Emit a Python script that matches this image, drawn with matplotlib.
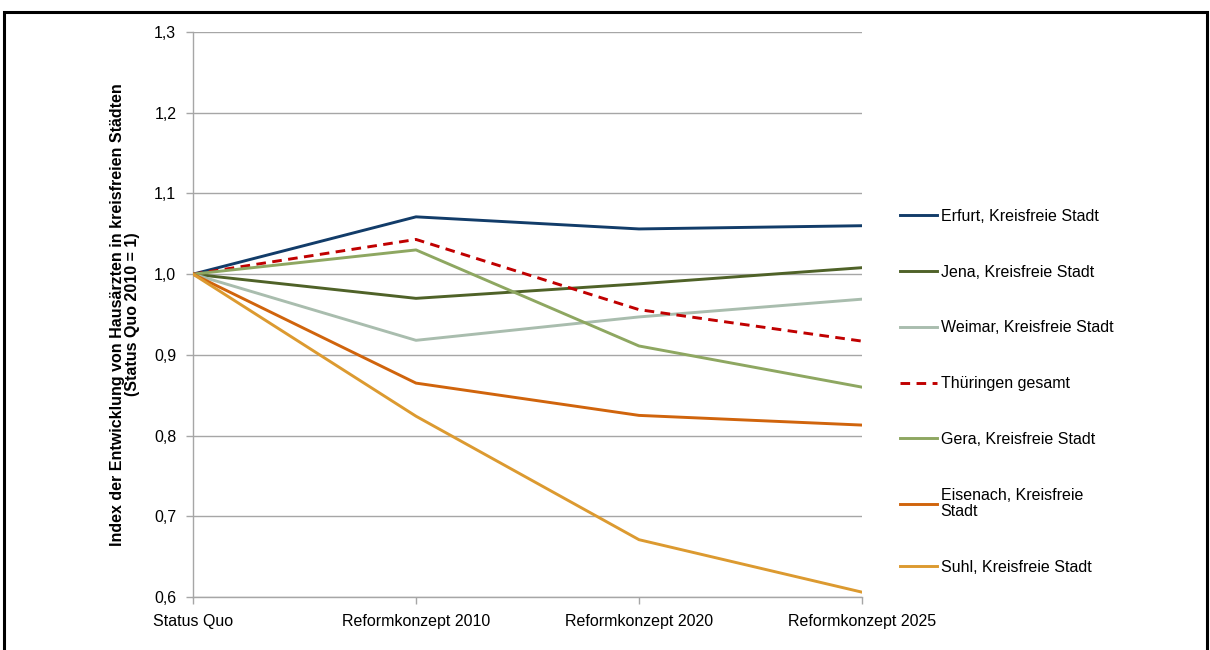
import matplotlib.pyplot as plt
from matplotlib.patches import Rectangle

plt.rcParams['font.family'] = ['Liberation Sans', 'DejaVu Sans']

# Szenarien (x-Achse)
szenarien = ['Status Quo', 'Reformkonzept 2010', 'Reformkonzept 2020', 'Reformkonzept 2025']

# Index je Stadt (Status Quo 2010 = 1)
erfurt = [1.000, 1.071, 1.056, 1.060]
jena = [1.000, 0.970, 0.988, 1.008]
weimar = [1.000, 0.918, 0.947, 0.969]
thueringen = [1.000, 1.043, 0.956, 0.917]
gera = [1.000, 1.030, 0.911, 0.860]
eisenach = [1.000, 0.865, 0.825, 0.813]
suhl = [1.000, 0.824, 0.671, 0.606]

namen = ['Erfurt, Kreisfreie Stadt', 'Jena, Kreisfreie Stadt', 'Weimar, Kreisfreie Stadt',
         'Thüringen gesamt', 'Gera, Kreisfreie Stadt', 'Eisenach, Kreisfreie\nStadt',
         'Suhl, Kreisfreie Stadt']

y_ticks = [0.6, 0.7, 0.8, 0.9, 1.0, 1.1, 1.2, 1.3]

reihen = [erfurt, jena, weimar, thueringen, gera, eisenach, suhl]
farben = ['#123C69', '#4F6228', '#A9BDAE', '#C00000', '#8EA761', '#D0640C', '#DC9A30']

fig = plt.figure(figsize=(12.1, 6.5), dpi=100)
ax = fig.add_axes([193 / 1210, 1 - 597 / 650, 669 / 1210, 565 / 650])

x = list(range(len(szenarien)))
for werte, farbe, name in zip(reihen, farben, namen):
    if name == 'Thüringen gesamt':
        ax.plot(x, werte, color=farbe, lw=2.1, dashes=(3.3, 2.2), label=name, zorder=3)
    else:
        ax.plot(x, werte, color=farbe, lw=2.1, label=name, zorder=3)

ax.set_xlim(0, 3)
ax.set_ylim(0.6, 1.3)
ax.set_xticks(x)
ax.set_xticklabels(szenarien, fontsize=11.5)
ax.set_yticks(y_ticks)
ax.set_yticklabels([f'{v:.1f}'.replace('.', ',') for v in y_ticks], fontsize=11.5)
ax.grid(axis='y', color='#A6A6A6', lw=1.0, zorder=0)
ax.tick_params(axis='both', length=5, color='#A6A6A6', width=1.0)
ax.tick_params(axis='y', pad=7)
ax.tick_params(axis='x', pad=7)
for s in ['top', 'right']:
    ax.spines[s].set_visible(False)
for s in ['left', 'bottom']:
    ax.spines[s].set_color('#A6A6A6')
    ax.spines[s].set_linewidth(1.0)

ax.set_ylabel('Index der Entwicklung von Hausärzten in kreisfreien Städten\n(Status Quo 2010 = 1)',
              fontsize=11.5, fontweight='bold', linespacing=1.05)
ax.yaxis.set_label_coords(-0.079, 0.5)

leg = ax.legend(loc='upper left', bbox_to_anchor=(1.047, 0.698), frameon=False, fontsize=11.5,
                handlelength=2.3, handletextpad=0.25, labelspacing=2.55, borderaxespad=0)
leg.get_texts()[5].set_linespacing(1.1)

# Rahmen
fig.patches.append(Rectangle((4 / 1210, -0.1), 1203 / 1210, 1.1 - 12 / 650,
                             transform=fig.transFigure, fill=False, ec='black', lw=2.2))

fig.savefig('out.png', dpi=100)
